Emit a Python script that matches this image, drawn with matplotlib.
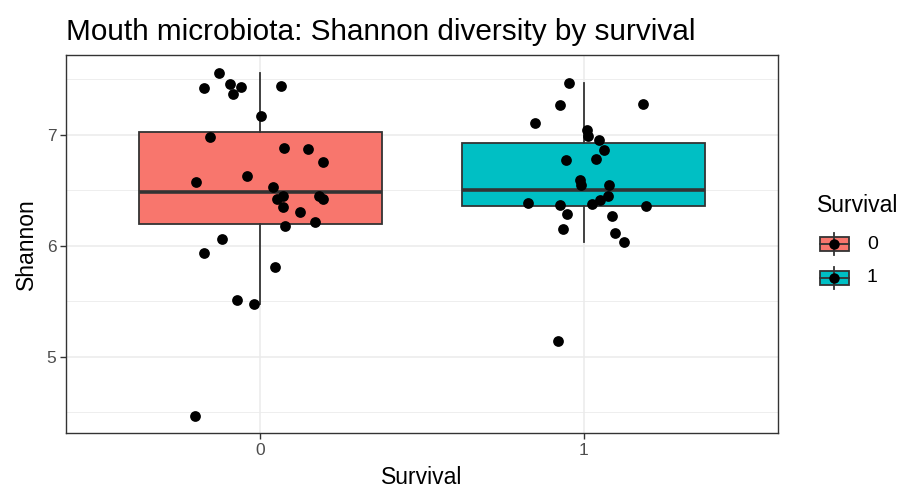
import numpy as np
import matplotlib.pyplot as plt
from matplotlib.patches import Rectangle
from matplotlib.lines import Line2D

plt.rcParams['font.family'] = ['Liberation Sans', 'DejaVu Sans']

# groups and fills
groups = ['0', '1']
fills = ['#F8766D', '#00BFC4']

# box statistics
box_q1 = [6.20, 6.36]
box_med = [6.49, 6.50]
box_q3 = [7.03, 6.93]
box_lo = [5.48, 6.04]
box_hi = [7.56, 7.47]

# jittered points: x offset from group centre, Shannon value
jit0 = [-0.127, -0.174, -0.092, -0.058, -0.085, 0.064, 0.002, -0.154, 0.074, 0.147,
        0.194, -0.198, -0.042, 0.040, 0.052, 0.070, 0.181, 0.194, 0.069, 0.123,
        0.076, 0.169, -0.117, -0.175, 0.046, -0.071, -0.019, -0.200]
shan0 = [7.56, 7.42, 7.46, 7.43, 7.37, 7.44, 7.17, 6.98, 6.88, 6.87,
         6.76, 6.58, 6.63, 6.53, 6.42, 6.45, 6.45, 6.42, 6.35, 6.31,
         6.18, 6.22, 6.06, 5.94, 5.81, 5.51, 5.48, 4.47]
jit1 = [-0.047, -0.073, 0.183, -0.150, 0.009, 0.013, 0.046, 0.061, -0.055, 0.037,
        -0.011, -0.009, 0.078, 0.075, 0.049, 0.026, -0.174, -0.073, 0.192, -0.052,
        0.086, -0.064, 0.096, 0.124, -0.079]
shan1 = [7.47, 7.27, 7.28, 7.11, 7.04, 6.99, 6.95, 6.86, 6.77, 6.78,
         6.59, 6.55, 6.55, 6.45, 6.41, 6.38, 6.39, 6.37, 6.36, 6.29,
         6.27, 6.15, 6.12, 6.04, 5.14]

edge = '#333333'
grid = '#EBEBEB'

fig = plt.figure(figsize=(9.18, 4.94), dpi=100)
ax = fig.add_axes([66/918, 1-433/494, 712/918, 378/494])

stats = []
for i in range(2):
    stats.append(dict(q1=box_q1[i], med=box_med[i], q3=box_q3[i],
                      whislo=box_lo[i], whishi=box_hi[i], fliers=[]))
bp = ax.bxp(stats, positions=[1, 2], widths=0.75, patch_artist=True,
            showcaps=False, showfliers=False,
            boxprops=dict(edgecolor=edge, linewidth=1.3),
            whiskerprops=dict(color=edge, linewidth=1.3),
            medianprops=dict(color=edge, linewidth=2.6, solid_capstyle='butt'))
for patch, c in zip(bp['boxes'], fills):
    patch.set_facecolor(c)
for art in bp['boxes'] + bp['whiskers'] + bp['medians']:
    art.set_zorder(2)

for pos, jit, vals in [(1, jit0, shan0), (2, jit1, shan1)]:
    ax.scatter(pos + np.array(jit), vals, s=60, color='black', zorder=3, linewidths=0)

ax.set_xlim(0.4, 2.6)
ax.set_ylim(4.315, 7.72)
ax.set_xticks([1, 2])
ax.set_xticklabels(groups)
ax.set_yticks([5, 6, 7])
ax.set_yticks([4.5, 5.5, 6.5, 7.5], minor=True)
ax.grid(True, which='major', color=grid, linewidth=1.1, zorder=0)
ax.grid(True, which='minor', axis='y', color=grid, linewidth=0.6, zorder=0)
ax.set_axisbelow(True)
ax.tick_params(axis='both', which='major', length=4, width=1.0, color=edge,
               labelcolor='#4D4D4D', labelsize=12.5, pad=3)
ax.tick_params(axis='y', which='minor', length=0)
for s in ax.spines.values():
    s.set_color(edge)
    s.set_linewidth(1.0)

ax.set_xlabel('Survival', fontsize=16.5, labelpad=6)
ax.set_ylabel('Shannon', fontsize=16.5, labelpad=6)
fig.text(66/918, 1-32/494, 'Mouth microbiota: Shannon diversity by survival',
         fontsize=21.4, va='center', ha='left')

# legend drawn by hand
fig.text(817/918, 1-205/494, 'Survival', fontsize=16.5, va='center', ha='left')
for i, (g, c) in enumerate(zip(groups, fills)):
    cy = 244 + 34*i
    tr = fig.transFigure
    fig.add_artist(Line2D([834/918, 834/918], [1-(cy-11)/494, 1-(cy+11)/494],
                          color=edge, linewidth=1.3, transform=tr))
    fig.add_artist(Rectangle((820/918, 1-(cy+7)/494), 29/918, 14/494,
                             facecolor=c, edgecolor=edge, linewidth=1.3, transform=tr))
    fig.add_artist(Line2D([820/918, 849/918], [1-cy/494, 1-cy/494],
                          color=edge, linewidth=1.3, transform=tr))
    fig.add_artist(Line2D([834/918], [1-cy/494], marker='o', markersize=7.5,
                          color='black', markeredgewidth=0, transform=tr))
    fig.text(867/918, 1-cy/494, g, fontsize=14, va='center', ha='left')

fig.savefig('out.png', dpi=100)
